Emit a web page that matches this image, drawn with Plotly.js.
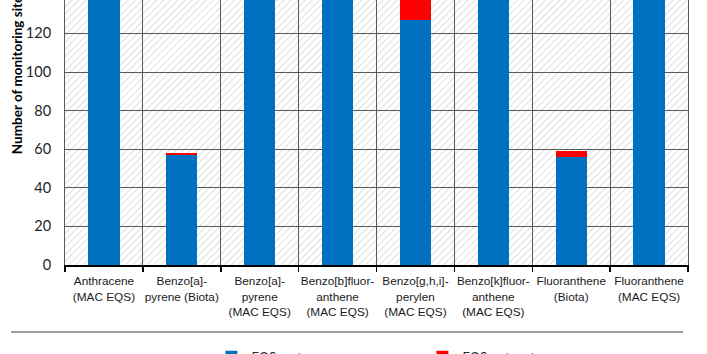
<!DOCTYPE html>
<html>
<head>
<meta charset="utf-8">
<script src="https://cdn.plot.ly/plotly-3.0.1.min.js"></script>
<style>
  html, body { margin: 0; padding: 0; width: 707px; height: 354px; overflow: hidden; background: #fff; }
  #chart { position: absolute; left: 0; top: -131px; width: 707px; height: 530px; }
</style>
</head>
<body>
<div id="chart"></div>
<script>
// ---- data ----
var categories = ["Anthracene (MAC EQS)", "Benzo[a]pyrene (Biota)", "Benzo[a]pyrene (MAC EQS)",
  "Benzo[b]fluoranthene (MAC EQS)", "Benzo[g,h,i]perylen (MAC EQS)", "Benzo[k]fluoranthene (MAC EQS)",
  "Fluoranthene (Biota)", "Fluoranthene (MAC EQS)"];
var tickLabels = ["Anthracene<br>(MAC EQS)", "Benzo[a]-<br>pyrene (Biota)", "Benzo[a]-<br>pyrene<br>(MAC EQS)",
  "Benzo[b]fluor-<br>anthene<br>(MAC EQS)", "Benzo[g,h,i]-<br>perylen<br>(MAC EQS)", "Benzo[k]fluor-<br>anthene<br>(MAC EQS)",
  "Fluoranthene<br>(Biota)", "Fluoranthene<br>(MAC EQS)"];
var eqsMet    = [160, 57, 160, 160, 127, 160, 56, 160];
var eqsNotMet = [0, 1, 0, 0, 16, 0, 3, 0];
var seriesNames = ["EQS met", "EQS not met"];
var yTicks = [0, 20, 40, 60, 80, 100, 120, 140, 160, 180, 200];

// hatch background for the plot area
var hatchSvg = '<svg xmlns="http://www.w3.org/2000/svg" width="623" height="386" viewBox="0 0 623 386" preserveAspectRatio="none">' +
  '<defs><pattern id="h" width="5" height="5" patternUnits="userSpaceOnUse" patternTransform="rotate(45)">' +
  '<line x1="0" y1="0" x2="0" y2="5" stroke="#c9c9c9" stroke-width="1.2"/></pattern></defs>' +
  '<rect width="623" height="386" fill="#ffffff"/><rect width="623" height="386" fill="url(#h)"/></svg>';
var hatchUri = 'data:image/svg+xml;charset=utf-8,' + encodeURIComponent(hatchSvg);

var traces = [
  { type: 'bar', name: seriesNames[0], x: categories, y: eqsMet, marker: { color: '#0070C0' } },
  { type: 'bar', name: seriesNames[1], x: categories, y: eqsNotMet, marker: { color: '#FF0000' } }
];

var layout = {
  width: 707, height: 530,
  margin: { l: 65, r: 19, t: 10, b: 134 },
  barmode: 'stack',
  bargap: 0.6,
  paper_bgcolor: '#ffffff',
  plot_bgcolor: '#ffffff',
  font: { family: 'Lato, sans-serif', color: '#262626' },
  xaxis: {
    type: 'category',
    tickvals: categories,
    ticktext: tickLabels,
    tickangle: 0,
    tickson: 'boundaries',
    ticks: 'outside', ticklen: 5, tickwidth: 1.5, tickcolor: '#000',
    showgrid: true, gridcolor: '#595959', gridwidth: 1,
    showline: true, linecolor: '#000', linewidth: 2,
    tickfont: { family: 'Liberation Sans, Arial, sans-serif', size: 11.8, color: '#1a1a1a' },
    ticklabelstandoff: 4,
    automargin: false,
    range: [-0.5, 7.5]
  },
  yaxis: {
    range: [0, 200],
    tickvals: yTicks,
    showgrid: true, gridcolor: '#595959', gridwidth: 1,
    showline: true, linecolor: '#595959', linewidth: 1, mirror: true,
    ticks: '',
    ticklabelstandoff: 10,
    tickfont: { family: 'Lato, sans-serif', size: 14.5, color: '#262626' },
    title: { text: '<b>Number of monitoring sites</b>', font: { family: 'Lato, sans-serif', size: 13.5, color: '#000' }, standoff: 0 },
    automargin: false,
    zeroline: false
  },
  showlegend: true,
  legend: {
    orientation: 'h', x: 0.235, xanchor: 'left', y: -0.238, yanchor: 'middle',
    entrywidth: 166, entrywidthmode: 'pixels',
    font: { family: 'Lato, sans-serif', size: 13, color: '#262626' },
    traceorder: 'normal'
  },
  images: [{
    source: hatchUri, xref: 'paper', yref: 'paper', x: 0, y: 1, sizex: 1, sizey: 1,
    xanchor: 'left', yanchor: 'top', sizing: 'stretch', layer: 'below'
  }],
  shapes: [{
    type: 'line', xref: 'paper', yref: 'paper', x0: -0.0867, x1: 0.992, y0: -0.1736, y1: -0.1736,
    line: { color: '#808080', width: 1.5 }
  }]
};

Plotly.newPlot('chart', traces, layout, { displayModeBar: false, staticPlot: true });
</script>
</body>
</html>
